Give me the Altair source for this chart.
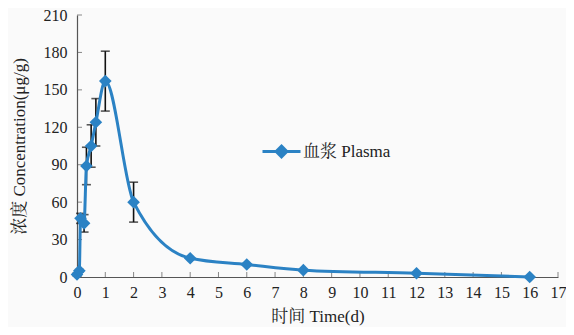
import altair as alt
import pandas as pd

# Data
time_d = [0, 0.083, 0.125, 0.25, 0.333, 0.5, 0.667, 1, 2, 4, 6, 8, 12, 16]
conc = [2, 5, 47, 43, 89, 105, 124, 157, 60, 15, 10, 5.5, 3, 0]
err = [1, 1, 4, 7, 15, 17, 19, 24, 16, 0, 0, 0, 0, 0]

x_ticks = list(range(0, 18))
y_ticks = list(range(0, 211, 30))

series_name = "血浆 Plasma"
FONT = "Liberation Serif, Noto Serif CJK SC, Noto Sans CJK SC"
BLUE = "#2b82c4"

df = pd.DataFrame({"t": time_d, "c": conc, "e": err, "s": series_name})
df["lo"] = df["c"] - df["e"]
df["hi"] = df["c"] + df["e"]
dx = pd.DataFrame({"v": x_ticks})
dy = pd.DataFrame({"v": y_ticks})

xs = alt.Scale(domain=[0, 17], nice=False, zero=False)
ys = alt.Scale(domain=[0, 210], nice=False)

xaxis = alt.Axis(values=x_ticks, ticks=False, grid=False, labelPadding=7,
                 title="时间 Time(d)", titlePadding=8, labelFlush=False,
                 labelOverlap=False, labelBound=False)
yaxis = alt.Axis(values=y_ticks, ticks=False, grid=False, labelPadding=10,
                 title="浓度 Concentration(μg/g)", titlePadding=15,
                 labelOverlap=False, labelBound=False, labelFlush=False)

X = lambda f: alt.X(f, scale=xs, axis=xaxis)
Y = lambda f: alt.Y(f, scale=ys, axis=yaxis)

base = alt.Chart(df)

err_df = base.transform_filter("datum.e > 0")
rules = err_df.mark_rule(color="#111", strokeWidth=1.6).encode(
    x=X("t:Q"), y=Y("lo:Q"), y2="hi:Q",
)
cap_lo = err_df.mark_tick(color="#111", orient="horizontal", size=9, thickness=1.6).encode(
    x=X("t:Q"), y=Y("lo:Q"))
cap_hi = err_df.mark_tick(color="#111", orient="horizontal", size=9, thickness=1.6).encode(
    x=X("t:Q"), y=Y("hi:Q"))

line = base.mark_line(interpolate="monotone", strokeWidth=3).encode(
    x=X("t:Q"),
    y=Y("c:Q"),
    color=alt.Color("s:N", scale=alt.Scale(range=[BLUE]),
                    legend=alt.Legend(title=None, orient="none", legendX=184, legendY=116,
                                      symbolType="M-1,0L1,0M0,-0.28L0.28,0L0,0.28L-0.28,0Z",
                                      symbolSize=1444, symbolStrokeWidth=3,
                                      symbolFillColor=BLUE, labelFontSize=17,
                                      labelFont=FONT, labelColor="#222", labelOffset=1)),
)
points = base.mark_point(shape="diamond", filled=True, size=160, opacity=1, color=BLUE).encode(
    x=X("t:Q"), y=Y("c:Q"),
)

xt = alt.Chart(dx).mark_tick(orient="vertical", size=5, thickness=1, color="#555", yOffset=-2.5).encode(
    x=X("v:Q"), y=alt.datum(0, scale=ys, axis=yaxis))
yt = alt.Chart(dy).mark_tick(orient="horizontal", size=5, thickness=1, color="#555", xOffset=2.5).encode(
    y=Y("v:Q"), x=alt.datum(0, scale=xs, axis=xaxis))

chart = alt.layer(rules, cap_lo, cap_hi, xt, yt, line, points).properties(
    width=481, height=262,
    autosize=alt.AutoSizeParams(type="none"),
    padding={"left": 69, "top": 7, "right": 8, "bottom": 50},
    background="#fafafa",
).configure_view(stroke=None, fill="#fafafa").configure_axis(
    domainColor="#555", domainWidth=1.2, labelOverlap=False,
    labelFont=FONT, labelFontSize=16, labelColor="#222",
    titleFont=FONT, titleFontSize=17, titleColor="#222", titleFontWeight="normal",
)

chart.save("out.html", embed_options={"renderer": "svg", "actions": False})
